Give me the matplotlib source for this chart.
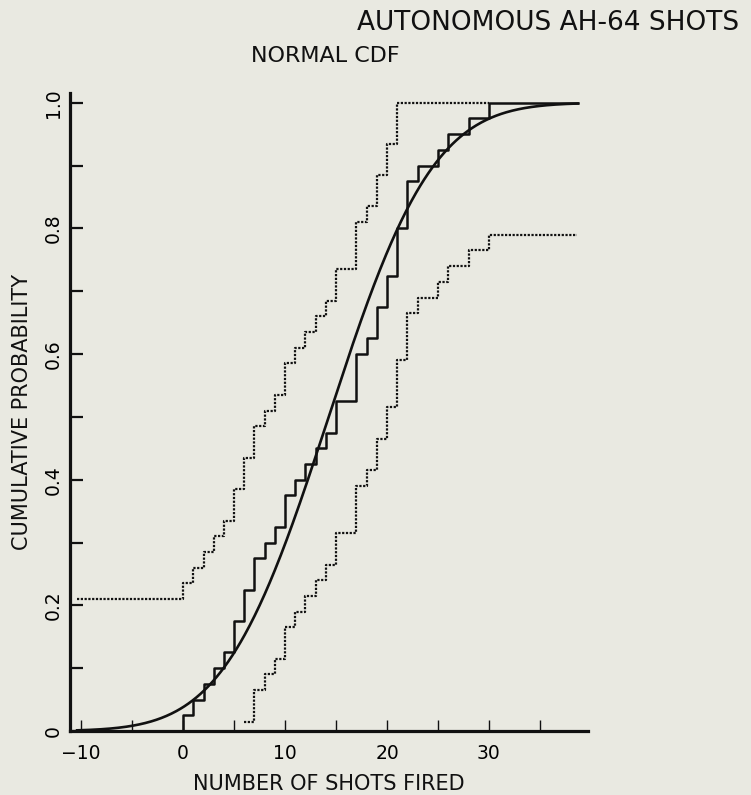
import math
import numpy as np
import matplotlib
matplotlib.use("Agg")
import matplotlib.pyplot as plt

# shots fired per engagement (40 runs)
shots = [0, 1, 2, 3, 4, 5, 5, 6, 6, 7, 7, 8, 9, 10, 10, 11, 12, 13, 14, 15,
         15, 17, 17, 17, 18, 19, 19, 20, 20, 21, 21, 21, 22, 22, 22, 23, 25, 26, 28, 30]
ks_band = 0.21
x_start, x_end = -10.4, 38.7

xticks_major = [-10, -5, 0, 5, 10, 15, 20, 25, 30, 35]
xtick_labels = ["\u221210", "", "0", "", "10", "", "20", "", "30", ""]
yticks_major = [0.0, 0.1, 0.2, 0.3, 0.4, 0.5, 0.6, 0.7, 0.8, 0.9, 1.0]
ytick_labels = ["0", "", "0.2", "", "0.4", "", "0.6", "", "0.8", "", "1.0"]

title = "AUTONOMOUS AH-64 SHOTS"
subtitle = "NORMAL CDF"
xlabel = "NUMBER OF SHOTS FIRED"
ylabel = "CUMULATIVE PROBABILITY"

bg = "#e9e9e1"
ink = "#111111"

# empirical cdf
sample = np.sort(np.array(shots, dtype=float))
n = len(sample)
uniq, counts = np.unique(sample, return_counts=True)
cdf = np.cumsum(counts) / n

ecdf_x = np.concatenate([[x_start], uniq, [x_end]])
ecdf_y = np.concatenate([[0.0], cdf, [1.0]])

upper_x = np.concatenate([[x_start], uniq])
upper_y = np.minimum(1.0, np.concatenate([[0.0], cdf]) + ks_band)

low = cdf - ks_band
keep = low > 0
lower_x = np.concatenate([uniq[keep], [x_end - 0.1]])
lower_y = np.concatenate([low[keep], [low[-1]]])

mu = sample.mean()
sd = sample.std(ddof=1)
xs = np.linspace(x_start, x_end, 500)
norm_y = np.array([0.5 * (1 + math.erf((v - mu) / (sd * math.sqrt(2)))) for v in xs])

fig = plt.figure(figsize=(7.51, 7.95), dpi=100, facecolor=bg)
ax = fig.add_axes([0.0932, 0.0805, 0.6895, 0.8021])
ax.set_facecolor(bg)

ax.step(ecdf_x, ecdf_y, where="post", color=ink, lw=1.8)
ax.plot(xs, norm_y, color=ink, lw=1.9)
ax.step(upper_x, upper_y, where="post", color=ink, lw=1.6, linestyle=(0, (1, 0.7)))
ax.step(lower_x, lower_y, where="post", color=ink, lw=1.6, linestyle=(0, (1, 0.7)))

ax.set_xlim(-11.1, 39.7)
ax.set_ylim(0, 1.015)

for side in ["top", "right"]:
    ax.spines[side].set_visible(False)
for side in ["left", "bottom"]:
    ax.spines[side].set_linewidth(2.3)
    ax.spines[side].set_color(ink)

ax.set_xticks(xticks_major)
ax.set_xticklabels(xtick_labels, fontsize=13.5)
ax.set_yticks(yticks_major)
ax.set_yticklabels(ytick_labels, fontsize=13.5, rotation=90, va="center")
ax.tick_params(axis="x", direction="in", length=8, width=1.0, color=ink, pad=9)
ax.tick_params(axis="y", direction="in", length=9, width=1.6, color=ink, pad=5)

ax.set_xlabel(xlabel, fontsize=15, color=ink, labelpad=8)
ax.set_ylabel(ylabel, fontsize=15, color=ink, labelpad=9)

fig.text(0.984, 0.971, title, ha="right", va="center", fontsize=19, color=ink)
fig.text(0.334, 0.9296, subtitle, ha="left", va="center", fontsize=16, color=ink)

fig.savefig("out.png", dpi=100, facecolor=bg)
